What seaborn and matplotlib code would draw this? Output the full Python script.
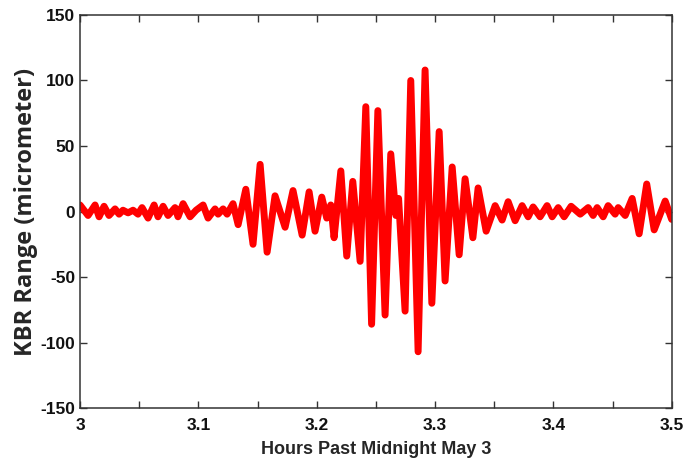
import matplotlib
matplotlib.use("Agg")
import matplotlib.pyplot as plt
import seaborn as sns
import pandas as pd

# extrema of the KBR range trace
hours = [3.0000, 3.0068, 3.0127, 3.0161, 3.0203, 3.0245, 3.0296, 3.0330, 3.0363, 3.0406,
         3.0448, 3.0490, 3.0524, 3.0575, 3.0626, 3.0659, 3.0702, 3.0744, 3.0803, 3.0828,
         3.0871, 3.0930, 3.0981, 3.1040, 3.1082, 3.1141, 3.1167, 3.1209, 3.1243, 3.1293,
         3.1336, 3.1401, 3.1462, 3.1522, 3.1581, 3.1648, 3.1733, 3.1800, 3.1877, 3.1936,
         3.1986, 3.2043, 3.2085, 3.2119, 3.2147, 3.2204, 3.2254, 3.2305, 3.2367, 3.2415,
         3.2464, 3.2517, 3.2578, 3.2626, 3.2669, 3.2692, 3.2747, 3.2795, 3.2857, 3.2916,
         3.2973, 3.3035, 3.3085, 3.3145, 3.3204, 3.3254, 3.3320, 3.3364, 3.3432, 3.3508,
         3.3567, 3.3618, 3.3677, 3.3736, 3.3787, 3.3829, 3.3888, 3.3947, 3.3990, 3.4041,
         3.4091, 3.4150, 3.4227, 3.4294, 3.4336, 3.4370, 3.4421, 3.4463, 3.4522, 3.4548,
         3.4607, 3.4666, 3.4725, 3.4789, 3.4852, 3.4945, 3.5000]
range_um = [5, -3, 5, -4, 4, -3, 2, -2, 1, -1,
            1, -2, 3, -5, 5, -4, 4, -3, 3, -4,
            6, -4, 1, 5, -5, 2, -2, 2, -2, 6,
            -10, 17, -25, 36, -31, 12, -12, 16, -18, 15,
            -15, 11, -5, 5, -20, 31, -34, 23, -38, 80,
            -86, 77, -79, 44, -3, 10, -76, 100, -107, 108,
            -70, 61, -53, 34, -33, 25, -20, 18, -15, 4.5,
            -6.5, 7.5, -7, 4.5, -4, 3.5, -4, 4.5, -4, 3,
            -4, 4, -2, 3, -3, 3, -4, 4.5, -2, 3,
            -3, 10, -17, 21, -14, 8, -6]

x_ticks = [3.0, 3.05, 3.1, 3.15, 3.2, 3.25, 3.3, 3.35, 3.4, 3.45, 3.5]
x_tick_labels = ["3", "", "3.1", "", "3.2", "", "3.3", "", "3.4", "", "3.5"]
y_ticks = [-150, -100, -50, 0, 50, 100, 150]

df = pd.DataFrame({"hours": hours, "kbr": range_um})

sns.set_style("ticks")
plt.rcParams["font.family"] = ["Liberation Sans", "DejaVu Sans"]
plt.rcParams["axes.unicode_minus"] = False

fig = plt.figure(figsize=(6.84, 4.68), dpi=100)
ax = fig.add_axes([0.117, 0.128, 0.865, 0.84])

sns.lineplot(data=df, x="hours", y="kbr", color="#ff0000", linewidth=5,
             sort=False, ax=ax)
for ln in ax.lines:
    ln.set_solid_joinstyle("round")
    ln.set_solid_capstyle("round")

ax.set_xlim(3.0, 3.5)
ax.set_ylim(-150, 150)
ax.set_xticks(x_ticks)
ax.set_xticklabels(x_tick_labels)
ax.set_yticks(y_ticks)
ax.tick_params(direction="in", length=5, width=1, colors="#333333",
               labelcolor="#111111", labelsize=12.5, top=True, right=True)
ax.tick_params(axis="x", pad=7)
for lab in ax.get_xticklabels() + ax.get_yticklabels():
    lab.set_fontweight("bold")
for s in ax.spines.values():
    s.set_visible(True)
    s.set_color("#333333")
    s.set_linewidth(1.1)

ax.set_xlabel("Hours Past Midnight May 3", fontsize=13, fontweight="bold", labelpad=6)
ax.set_ylabel("KBR Range (micrometer)", fontsize=17, fontweight="bold",
              family=["Open Sans", "DejaVu Sans"], labelpad=2)

fig.savefig("out.png", dpi=100)
